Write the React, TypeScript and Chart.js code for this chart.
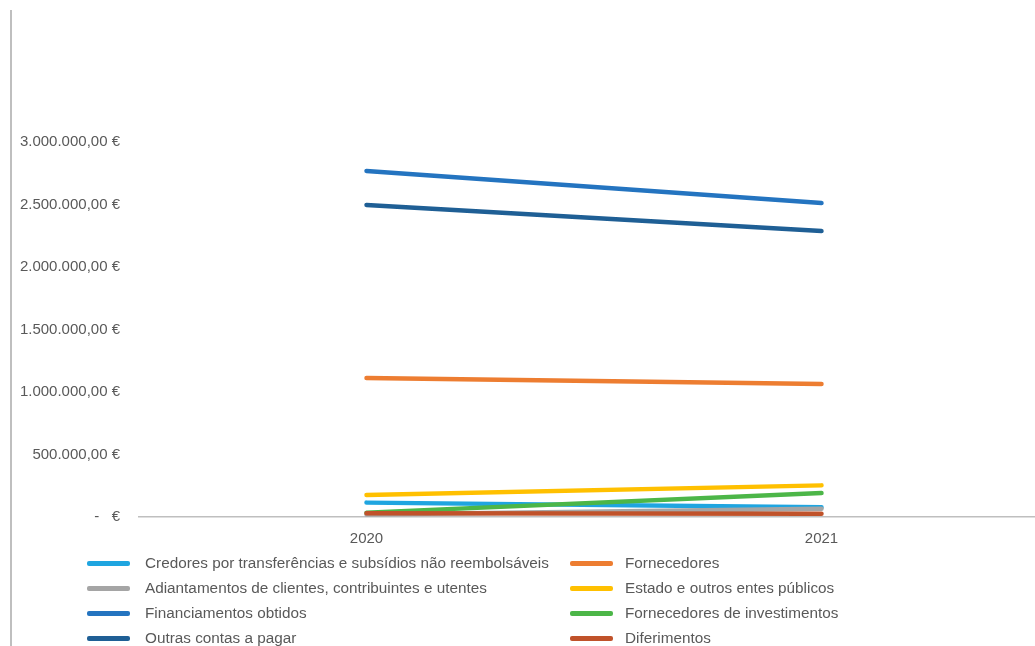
import React, { useEffect, useRef } from "react";
import { Chart, registerables } from "chart.js";

Chart.register(...registerables);

const categories = ["2020", "2021"];

const seriesNames = [
  "Credores por transferências e subsídios não reembolsáveis",
  "Fornecedores",
  "Adiantamentos de clientes, contribuintes e utentes",
  "Estado e outros entes públicos",
  "Financiamentos obtidos",
  "Fornecedores de investimentos",
  "Outras contas a pagar",
  "Diferimentos",
];

const seriesColors = [
  "#1FA5E0",
  "#ED7D31",
  "#A5A5A5",
  "#FFC000",
  "#2474C0",
  "#4CB648",
  "#1F5F95",
  "#C0522A",
];

const credores = [115000, 78000];
const fornecedores = [1112000, 1064000];
const adiantamentos = [20000, 66000];
const estado = [176000, 253000];
const financiamentos = [2768000, 2512000];
const fornecedoresInvestimentos = [35000, 192000];
const outrasContas = [2496000, 2288000];
const diferimentos = [30000, 26000];

const seriesValues = [
  credores,
  fornecedores,
  adiantamentos,
  estado,
  financiamentos,
  fornecedoresInvestimentos,
  outrasContas,
  diferimentos,
];

const yTicks = [0, 500000, 1000000, 1500000, 2000000, 2500000, 3000000];

const FONT = "'Liberation Sans Narrow', 'Liberation Sans', Arial, sans-serif";
const TEXT = "#595959";

function formatEuro(v: number): string {
  if (v === 0) return "-   €";
  const int = Math.round(v).toString().replace(/\B(?=(\d{3})+(?!\d))/g, ".");
  return int + ",00 €";
}

export default function App() {
  const ref = useRef<HTMLCanvasElement | null>(null);

  useEffect(() => {
    if (!ref.current) return;
    const chart = new Chart(ref.current, {
      type: "line",
      data: {
        labels: categories,
        datasets: seriesNames.map((name, i) => ({
          label: name,
          data: seriesValues[i],
          borderColor: seriesColors[i],
          backgroundColor: seriesColors[i],
          borderWidth: 4.5,
          borderCapStyle: "round" as const,
          pointRadius: 0,
          tension: 0,
          order: -i,
        })),
      },
      options: {
        animation: false,
        responsive: false,
        maintainAspectRatio: false,
        layout: { padding: { top: 142, bottom: 90, left: 0, right: 1 } },
        plugins: { legend: { display: false }, tooltip: { enabled: false } },
        scales: {
          x: {
            offset: true,
            grid: { display: false, drawTicks: false },
            border: { display: true, color: "#BFBFBF", width: 1.5 },
            ticks: {
              color: TEXT,
              font: { family: FONT, size: 15 },
              padding: 13,
            },
            afterFit: (s: any) => {
              s.height = 39;
            },
          },
          y: {
            min: 0,
            max: 3000000,
            grid: { display: false, drawTicks: false },
            border: { display: false },
            afterBuildTicks: (s: any) => {
              s.ticks = yTicks.map((v) => ({ value: v }));
            },
            ticks: {
              color: TEXT,
              font: { family: FONT, size: 15 },
              padding: 19,
              callback: (v: any) => formatEuro(Number(v)),
            },
            afterFit: (s: any) => {
              s.width = 139;
            },
          },
        },
      },
    });
    return () => chart.destroy();
  }, []);

  const rows = [0, 1, 2, 3];
  return (
    <div
      style={{
        position: "fixed",
        left: 0,
        top: 0,
        width: 1035,
        height: 646,
        overflow: "hidden",
        background: "#fff",
      }}
    >
      <canvas
        ref={ref}
        width={1050}
        height={646}
        style={{ position: "absolute", left: 0, top: 0, width: 1050, height: 646 }}
      />
      <div
        style={{
          position: "absolute",
          left: 10,
          top: 10,
          width: 1.5,
          height: 640,
          background: "#BFBFBF",
        }}
      />
      {rows.map((r) =>
        [0, 1].map((c) => {
          const i = r * 2 + c;
          const swatchLeft = c === 0 ? 87 : 570;
          const textLeft = c === 0 ? 145 : 625;
          const cy = 563 + r * 25;
          return (
            <React.Fragment key={i}>
              <div
                style={{
                  position: "absolute",
                  left: swatchLeft,
                  top: cy - 2,
                  width: 43,
                  height: 4.5,
                  borderRadius: 2,
                  background: seriesColors[i],
                }}
              />
              <div
                style={{
                  position: "absolute",
                  left: textLeft,
                  top: cy - 10,
                  height: 20,
                  lineHeight: "20px",
                  fontFamily: FONT,
                  fontSize: 15.3,
                  color: TEXT,
                  whiteSpace: "nowrap",
                }}
              >
                {seriesNames[i]}
              </div>
            </React.Fragment>
          );
        })
      )}
    </div>
  );
}
